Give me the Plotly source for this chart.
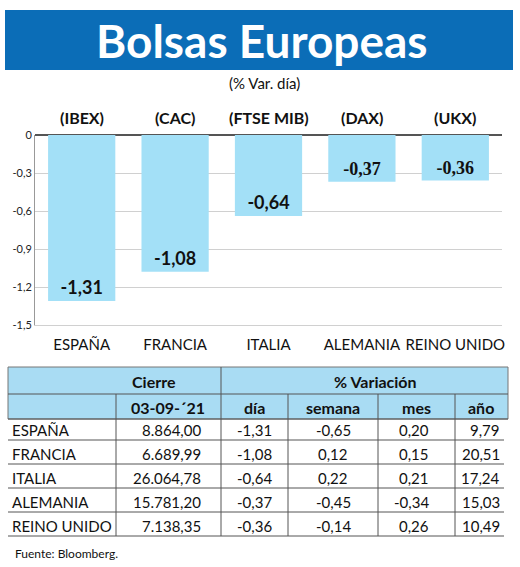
import plotly.graph_objects as go

# datos
paises = ["ESPAÑA", "FRANCIA", "ITALIA", "ALEMANIA", "REINO UNIDO"]
indices = ["(IBEX)", "(CAC)", "(FTSE MIB)", "(DAX)", "(UKX)"]
var_dia = [-1.31, -1.08, -0.64, -0.37, -0.36]
cierre = [8864.00, 6689.99, 26064.78, 15781.20, 7138.35]
var_semana = [-0.65, 0.12, 0.22, -0.45, -0.14]
var_mes = [0.20, 0.15, 0.21, -0.34, 0.26]
var_anio = [9.79, 20.51, 17.24, 15.03, 10.49]
fecha = "03-09-´21"
y_ticks = [0, -0.3, -0.6, -0.9, -1.2, -1.5]

W, H = 520, 567
NARROW = "Lato, Roboto, sans-serif"
SERIF = "Liberation Serif, DejaVu Serif, serif"
AZUL = "#0b6db7"
CELESTE = "#a3e0f7"
CAB = "#a9dcf3"


def es(v, dec=2):
    s = f"{v:,.{dec}f}"
    return s.replace(",", "X").replace(".", ",").replace("X", ".")


def px(x):
    return x / W


def py(y):
    return 1 - y / H


fig = go.Figure()

fig.add_bar(
    x=paises, y=var_dia,
    marker_color=CELESTE, marker_line_width=0,
    text=["<b>" + es(v) + "</b>" for v in var_dia],
    textposition="inside", insidetextanchor="end",
    textfont=dict(family=[NARROW, NARROW, NARROW, SERIF, SERIF], size=18, color="#111"),
    constraintext="none", hoverinfo="skip",
)

# etiquetas de indices arriba
for p, ind in zip(paises, indices):
    fig.add_annotation(x=p, y=0, xref="x", yref="y", yshift=18, text="<b>" + ind + "</b>",
                       showarrow=False, font=dict(family=NARROW, size=16, color="#111"))

fig.update_xaxes(domain=[px(35), px(502)], showgrid=False, ticks="",
                 showline=True, linecolor="#d0d0d0", linewidth=1,
                 automargin=False, tickangle=0, ticklabelstandoff=6,
                 tickfont=dict(family=NARROW, size=15, color="#111"))
fig.update_yaxes(domain=[py(325), py(135)], range=[-1.5, 0], tickvals=y_ticks,
                 ticktext=[es(v, 1) if v != 0 else "0" for v in y_ticks],
                 automargin=False,
                 tickfont=dict(family=NARROW, size=11, color="#222"),
                 showgrid=True, gridcolor="#d0d0d0", gridwidth=1,
                 zeroline=True, zerolinecolor="#555", zerolinewidth=1.5,
                 showline=True, linecolor="#999", linewidth=1, ticks="")

shapes = []
ann = []

# banda del titulo
shapes.append(dict(type="rect", xref="paper", yref="paper", x0=px(5), x1=px(513), y0=py(70), y1=py(10),
                   fillcolor=AZUL, line_width=0, layer="below"))
ann.append(dict(x=px(262), y=py(40), text="<b>Bolsas Europeas</b>",
                font=dict(family=NARROW, size=46, color="white")))
ann.append(dict(x=px(264), y=py(83), text="(% Var. día)",
                font=dict(family=NARROW, size=15, color="#111")))

# tabla
tx0, tx1 = 8, 508
shapes.append(dict(type="rect", xref="paper", yref="paper", x0=px(tx0), x1=px(tx1), y0=py(419), y1=py(367),
                   fillcolor=CAB, line=dict(color="#777", width=1), layer="below"))
lineas_h = [394, 419, 440, 464, 488, 512, 536]
for yy in lineas_h:
    shapes.append(dict(type="line", xref="paper", yref="paper", x0=px(tx0), x1=px(tx1 - 4 if yy > 419 else tx1),
                       y0=py(yy), y1=py(yy), line=dict(color="#555", width=1)))
shapes.append(dict(type="line", xref="paper", yref="paper", x0=px(221), x1=px(221), y0=py(367), y1=py(536),
                   line=dict(color="#555", width=1)))
for xx in [116, 288, 378, 455]:
    shapes.append(dict(type="line", xref="paper", yref="paper", x0=px(xx), x1=px(xx), y0=py(394), y1=py(536),
                       line=dict(color="#555", width=1)))

hfont = dict(family=NARROW, size=16, color="#111")
ann.append(dict(x=px(154), y=py(381), text="<b>Cierre</b>", font=hfont))
ann.append(dict(x=px(375), y=py(381), text="<b>% Variación</b>", font=hfont))
for x, t in zip([168, 254, 333, 416, 481], [fecha, "día", "semana", "mes", "año"]):
    ann.append(dict(x=px(x), y=py(407), text="<b>" + t + "</b>", font=hfont))

rfont = dict(family=NARROW, size=15, color="#111")
fondos = [440, 464, 488, 512, 536]
for i, p in enumerate(paises):
    yc = py(fondos[i] - 10)
    ann.append(dict(x=px(10), y=yc, text=p, xanchor="left", font=rfont))
    ann.append(dict(x=px(203), y=yc, text=es(cierre[i]), xanchor="right", font=rfont))
    ann.append(dict(x=px(274), y=yc, text=es(var_dia[i]), xanchor="right", font=rfont))
    ann.append(dict(x=px(333), y=yc, text=es(var_semana[i]), xanchor="center", font=rfont))
    ann.append(dict(x=px(431), y=yc, text=es(var_mes[i]), xanchor="right", font=rfont))
    ann.append(dict(x=px(502), y=yc, text=es(var_anio[i]), xanchor="right", font=rfont))

ann.append(dict(x=px(13), y=py(553), text="Fuente: Bloomberg.", xanchor="left",
                font=dict(family=NARROW, size=12, color="#111")))

for a in ann:
    a.setdefault("xref", "paper")
    a.setdefault("yref", "paper")
    a.setdefault("xanchor", "center")
    a.setdefault("yanchor", "middle")
    a["showarrow"] = False
    fig.add_annotation(**a)

fig.update_layout(
    width=W, height=H, autosize=False,
    margin=dict(l=0, r=0, t=0, b=0),
    plot_bgcolor="white", paper_bgcolor="white",
    showlegend=False, bargap=0.28,
    shapes=shapes,
)

fig.write_html("out.html", config={"displayModeBar": False},
               post_script="document.body.style.margin='0';")
